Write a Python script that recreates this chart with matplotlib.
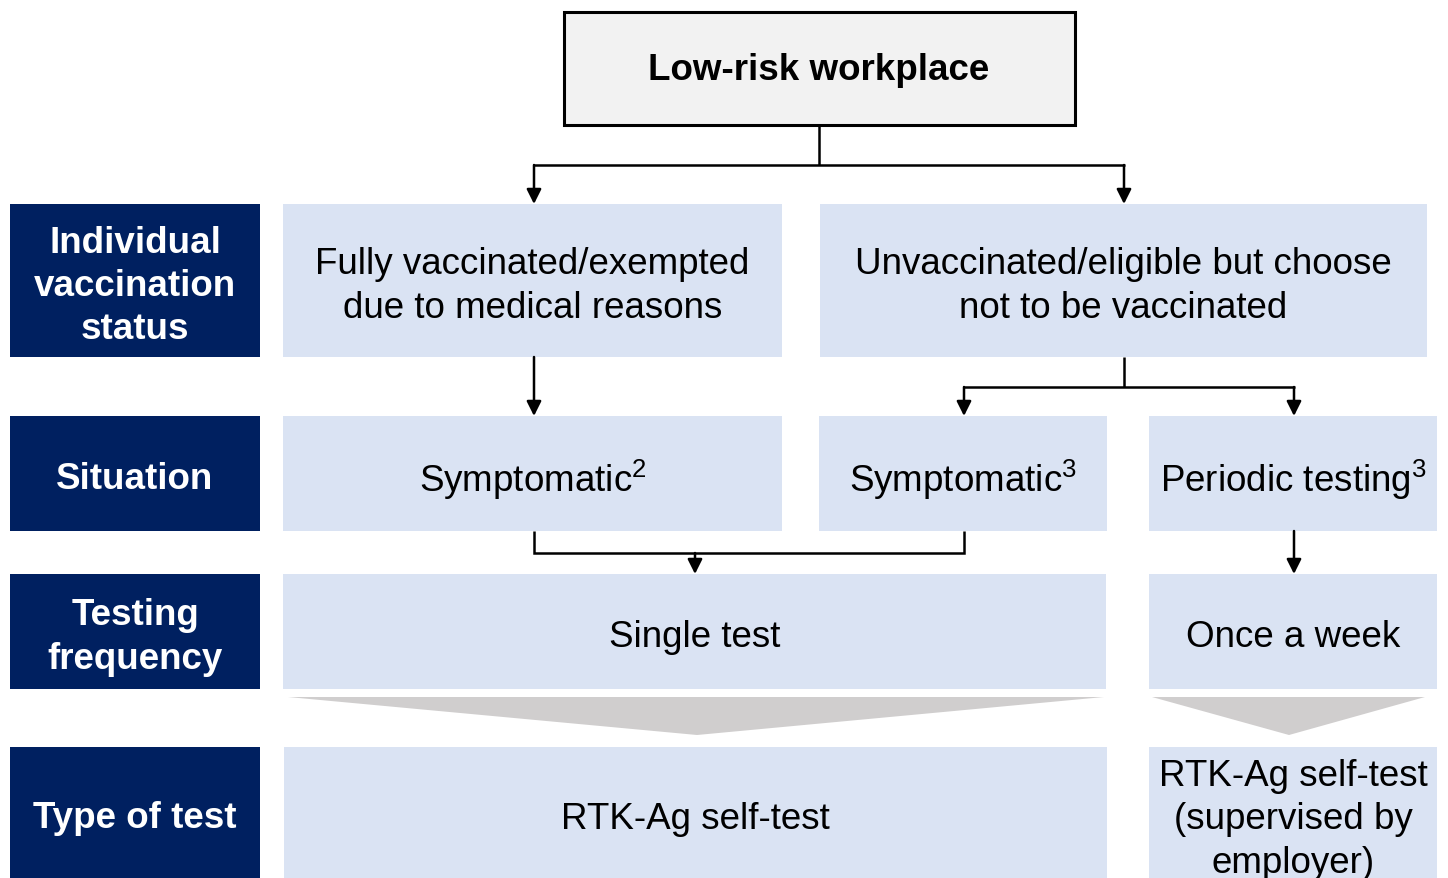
import matplotlib
matplotlib.use('Agg')
import matplotlib.pyplot as plt
from matplotlib.patches import Rectangle, Polygon

plt.rcParams['font.family'] = ['Liberation Sans', 'DejaVu Sans']
plt.rcParams['mathtext.fontset'] = 'custom'
plt.rcParams['mathtext.rm'] = 'Liberation Sans'

# text content
title_text = 'Low-risk workplace'
row_labels = ['Individual\nvaccination\nstatus', 'Situation', 'Testing\nfrequency', 'Type of test']
status_labels = ['Fully vaccinated/exempted\ndue to medical reasons',
                 'Unvaccinated/eligible but choose\nnot to be vaccinated']
situation_labels = ['Symptomatic$^{\\mathregular{2}}$', 'Symptomatic$^{\\mathregular{3}}$',
                    'Periodic testing$^{\\mathregular{3}}$']
frequency_labels = ['Single test', 'Once a week']
test_labels = ['RTK-Ag self-test', 'RTK-Ag self-test\n(supervised by\nemployer)']

# layout in pixels (x0, x1)
row_y = [(205, 358), (417, 532), (575, 690), (748, 879)]
status_x = [(283, 782), (820, 1427)]
situation_x = [(283, 782), (819, 1107), (1149, 1437)]
frequency_x = [(283, 1106), (1149, 1437)]
test_x = [(284, 1107), (1149, 1437)]

navy = '#002060'
light = '#dae3f3'
grey = '#d0cece'
fs = 26.5

fig = plt.figure(figsize=(14.48, 8.79), dpi=100)
ax = fig.add_axes([0, 0, 1, 1])
ax.set_xlim(0, 1448)
ax.set_ylim(879, 0)
ax.axis('off')


def box(x0, x1, y0, y1, color, text, tcolor='black', bold=False, ty=None):
    ax.add_patch(Rectangle((x0, y0), x1 - x0, y1 - y0, facecolor=color, edgecolor='none'))
    cy = (y0 + y1) / 2 + 5 if ty is None else ty
    ax.text((x0 + x1) / 2, cy, text, ha='center', va='center', fontsize=fs, color=tcolor,
            fontweight='bold' if bold else 'normal', linespacing=1.3)


# top box
ax.add_patch(Rectangle((564, 13), 511, 113, facecolor='#f2f2f2', edgecolor='black', linewidth=2.2))
ax.text(819, 71, title_text, ha='center', va='center', fontsize=fs, fontweight='bold')

# row labels
for lab, (y0, y1) in zip(row_labels, row_y):
    box(10, 260, y0, y1, navy, lab, tcolor='white', bold=True)

for lab, (x0, x1) in zip(status_labels, status_x):
    box(x0, x1, *row_y[0], light, lab)
for lab, (x0, x1) in zip(situation_labels, situation_x):
    box(x0, x1, *row_y[1], light, lab)
for lab, (x0, x1) in zip(frequency_labels, frequency_x):
    box(x0, x1, *row_y[2], light, lab)
box(*test_x[0], *row_y[3], light, test_labels[0], ty=820)
box(*test_x[1], 748, 920, light, test_labels[1], ty=820)

# connectors
lw = 1.8


def line(xs, ys):
    ax.plot(xs, ys, color='black', lw=lw, solid_capstyle='butt', solid_joinstyle='miter')


def arrow(x, y0, y1):
    ax.annotate('', xy=(x, y1), xytext=(x, y0),
                arrowprops=dict(arrowstyle='-|>', color='black', lw=lw, mutation_scale=22,
                                shrinkA=0, shrinkB=0))


line([819, 819], [127, 166])
line([533, 1125], [166, 166])
arrow(534, 166, 205)
arrow(1124, 166, 205)

arrow(534, 358, 417)
line([1124, 1124], [358, 388])
line([963, 1295], [388, 388])
arrow(964, 388, 417)
arrow(1294, 388, 417)

line([534, 534, 964, 964], [532, 554, 554, 532])
arrow(695, 554, 575)
arrow(1294, 532, 575)

# grey chevrons
ax.add_patch(Polygon([(288, 698), (1104, 698), (697, 736)], closed=True, facecolor=grey, edgecolor='none'))
ax.add_patch(Polygon([(1152, 698), (1425, 698), (1289, 736)], closed=True, facecolor=grey, edgecolor='none'))

fig.savefig('out.png', dpi=100)
